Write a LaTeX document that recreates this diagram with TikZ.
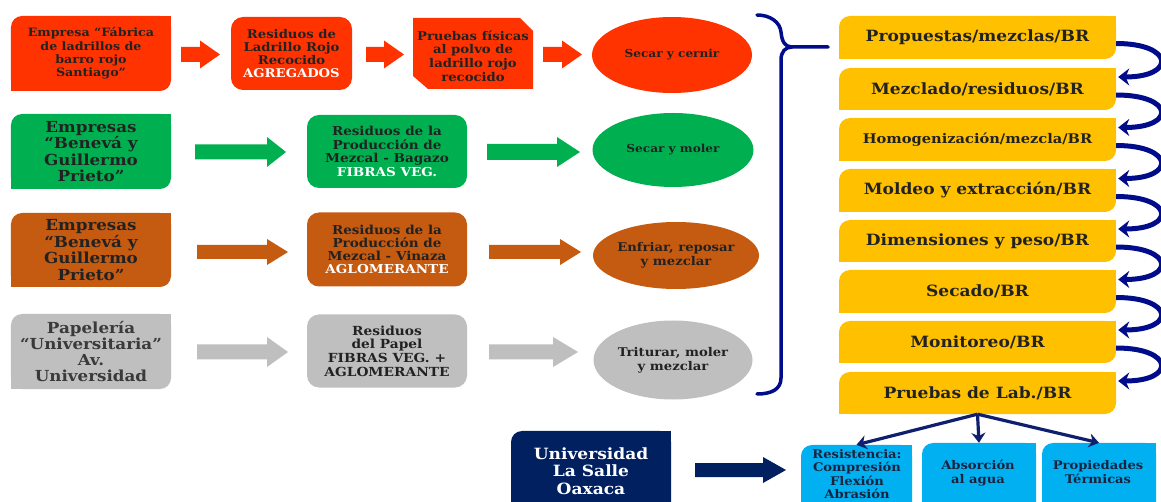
\documentclass[tikz,border=0pt]{standalone}
\usepackage{fontspec}
\setmainfont{DejaVu Serif}[FakeStretch=1.1]
\usetikzlibrary{shapes.geometric,arrows.meta,calc}
\definecolor{redc}{HTML}{FF3300}
\definecolor{greenc}{HTML}{00B050}
\definecolor{brownc}{HTML}{C55A11}
\definecolor{grayc}{HTML}{BFBFBF}
\definecolor{yellowc}{HTML}{FFC000}
\definecolor{navyc}{HTML}{002060}
\definecolor{bluec}{HTML}{00B0F0}
\definecolor{bracec}{HTML}{000C8A}
\definecolor{darr}{HTML}{0E1F70}
\definecolor{ink}{HTML}{222222}
\definecolor{ink2}{HTML}{3A3A3A}
\definecolor{bink}{HTML}{1B2340}
\newcommand\rdnode[8]{%
  \pgfmathsetmacro\mybw{#6-#4}%
  \pgfmathsetmacro\mybh{#7-#5}%
  \node[rdbox, fill=#1, #2, minimum width=\mybw bp, minimum height=\mybh bp] (#3) at ({(#4+#6)/2},{(#5+#7)/2}) {#8};
  \fill[#1] (#3.north east) rectangle ++(-12,12);
  \fill[#1] (#3.south west) rectangle ++(12,-12);
}
\newcommand\blockarr[7]{\fill[#1] (#2,#5-#6) -- (#3,#5-#6) -- (#3,#5-#7) -- (#4,#5) -- (#3,#5+#7) -- (#3,#5+#6) -- (#2,#5+#6) -- cycle;}
\begin{document}
\begin{tikzpicture}[x=1bp,y=-1bp,
  fs/.style 2 args={font=\bfseries\fontsize{#1bp}{#2bp}\selectfont},
  rdbox/.style={rectangle, rounded corners=11bp, inner sep=0, align=center, text=ink},
  rbox/.style={rectangle, rounded corners=12bp, inner sep=0, align=center, text=ink},
  txt/.style={inner sep=0, align=center, text=ink},
  ell/.style={ellipse, inner sep=0, align=center, text=ink},
  curv/.style={draw=bracec, line width=5bp, -{Stealth[length=11bp,width=17bp]}},
  darw/.style={draw=darr, line width=3.2bp, -{Stealth[length=10bp,width=14bp]}}]
\fill[white] (0,0) rectangle (1161,502);
\clip (0,0) rectangle (1161,502);
% ---------- row 1 (red)
\rdnode{redc}{fs={11.5}{13.3}}{a1}{11}{16}{171}{91}{Empresa “Fábrica\\de ladrillos de\\barro rojo\\Santiago”}
\blockarr{redc}{181}{200}{220}{54.5}{7.5}{14}
\node[rbox, fill=redc, minimum width=121bp, minimum height=73bp, fs={12}{13.3}] (a2) at (291.5,53.5) {Residuos de\\Ladrillo Rojo\\Recocido\\\textcolor{white}{AGREGADOS}};
\blockarr{redc}{366}{384}{404}{54.5}{7.5}{14}
\fill[redc] (413,18) -- (520,18) -- (533,31) -- (533,89) -- (428,89) -- (413,76) -- cycle;
\node[txt, fs={12}{13.7}] (a3) at (473,56) {Pruebas físicas\\al polvo de\\ladrillo rojo\\recocido};
\blockarr{redc}{543}{562}{582}{54.5}{7.5}{14}
\node[ell, fill=redc, minimum width=160bp, minimum height=76bp, fs={11}{14}] (e1) at (672,55) {Secar y cernir};
% ---------- row 2 (green)
\rdnode{greenc}{fs={15.2}{16.4}}{b1}{11}{114}{171}{189}{Empresas\\“Benevá y\\Guillermo\\Prieto”}
\blockarr{greenc}{195}{267}{286}{152}{7.5}{15}
\node[rbox, fill=greenc, minimum width=160bp, minimum height=73bp, fs={12.3}{13.6}] (b2) at (387,151.5) {Residuos de la\\Producción de\\Mezcal - Bagazo\\\textcolor{white}{FIBRAS VEG.}};
\blockarr{greenc}{487}{557}{580}{152}{8}{15}
\node[ell, fill=greenc, minimum width=161bp, minimum height=74bp, fs={11}{14}] (e2) at (673,150) {Secar y moler};
% ---------- row 3 (brown)
\rdnode{brownc}{fs={15.2}{16.7}}{c1}{11}{213}{171}{287}{Empresas\\“Benevá y\\Guillermo\\Prieto”}
\blockarr{brownc}{197}{267}{288}{252}{7}{13}
\node[rbox, fill=brownc, minimum width=160bp, minimum height=74bp, fs={12.3}{13}] (c2) at (387,249.5) {Residuos de la\\Producción de\\Mezcal - Vinaza\\\textcolor{white}{AGLOMERANTE}};
\blockarr{brownc}{489}{560}{581}{252}{7}{13}
\node[ell, fill=brownc, minimum width=161bp, minimum height=67bp, fs={12}{14.5}] (e3) at (676,255.5) {Enfriar, reposar\\y mezclar};
% ---------- row 4 (gray)
\rdnode{grayc}{fs={15.2}{16.3},text=ink2}{d1}{11}{314}{171}{389}{Papelería\\“Universitaria”\\Av.\\Universidad}
\blockarr{grayc}{197}{267}{288}{352}{7.5}{15}
\node[rbox, fill=grayc, minimum width=160bp, minimum height=73bp, fs={12.5}{13.6}] (d2) at (387,351) {Residuos\\del Papel\\FIBRAS VEG. +\\AGLOMERANTE};
\blockarr{grayc}{489}{553}{578}{352}{7.5}{15}
\node[ell, fill=grayc, minimum width=159bp, minimum height=79bp, fs={12}{14}] (e4) at (673,360) {Triturar, moler\\y mezclar};
% ---------- brace
\draw[bracec, line width=3.5bp, line cap=round] (757,15) .. controls (770,15) and (780,22) .. (781,32) .. controls (782,42) and (785,47) .. (792,47) -- (828,47);
\draw[bracec, line width=3.5bp, line cap=round] (792,47) .. controls (785,47) and (781,52) .. (781,60) -- (781,378) .. controls (781,389) and (772,394) .. (757,394);
% ---------- yellow steps
\rdnode{yellowc}{fs={15.5}{18}}{y1}{839}{16}{1116}{59}{Propuestas/mezclas/BR}
\rdnode{yellowc}{fs={15.5}{18}}{y2}{839}{68}{1116}{110}{Mezclado/residuos/BR}
\rdnode{yellowc}{fs={13.3}{17}}{y3}{839}{118}{1116}{161}{Homogenización/mezcla/BR}
\rdnode{yellowc}{fs={15.5}{18}}{y4}{839}{169}{1116}{212}{Moldeo y extracción/BR}
\rdnode{yellowc}{fs={15.5}{18}}{y5}{839}{220}{1116}{262}{Dimensiones y peso/BR}
\rdnode{yellowc}{fs={15.5}{18}}{y6}{839}{270}{1116}{313}{Secado/BR}
\rdnode{yellowc}{fs={15.5}{18}}{y7}{839}{321}{1116}{363}{Monitoreo/BR}
\rdnode{yellowc}{fs={15.5}{18}}{y8}{839}{372}{1116}{414}{Pruebas de Lab./BR}
\foreach \p/\q in {y1/y2,y2/y3,y3/y4,y4/y5,y5/y6,y6/y7,y7/y8}
  \draw[curv] ([yshift=-6bp]\p.east) to[out=0,in=0,distance=58bp] ([xshift=2bp,yshift=12bp]\q.east);
% ---------- bottom
\rdnode{navyc}{}{u1}{511}{431}{671}{525}{}
\node[txt, text=white, fs={15.5}{17.5}] (u1t) at (591,471) {Universidad\\La Salle\\Oaxaca};
\blockarr{navyc}{695}{763}{786}{470}{7}{13}
\rdnode{bluec}{}{bb1}{801}{445}{912}{525}{}
\rdnode{bluec}{}{bb2}{922}{443}{1036}{525}{}
\rdnode{bluec}{}{bb3}{1042}{443}{1156}{525}{}
\node[txt, text=bink, fs={11.9}{13.3}] (bt1) at (857,474) {Resistencia:\\Compresión\\Flexión\\Abrasión};
\node[txt, text=bink, fs={11.9}{14}] (bt2) at (978,473) {Absorción\\al agua};
\node[txt, text=bink, fs={11.9}{14}] (bt3) at (1098,472) {Propiedades\\Térmicas};
\draw[darw] (y8.south) -- (bb1.north);
\draw[darw] (y8.south) -- (bb2.north);
\draw[darw] (y8.south) -- (bb3.north);
\end{tikzpicture}
\end{document}
